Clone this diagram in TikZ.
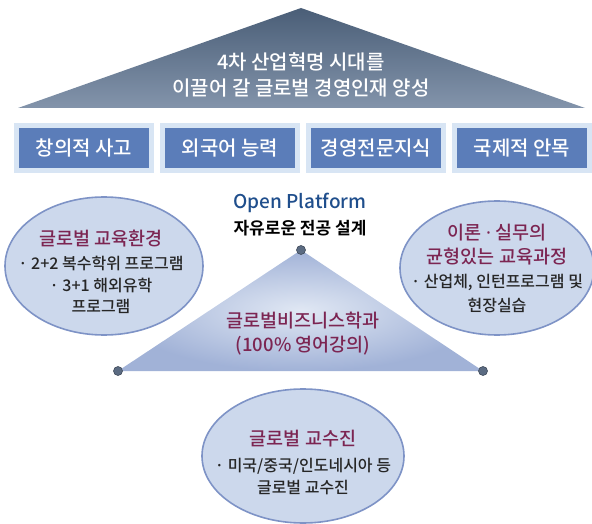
\documentclass[tikz,border=0pt]{standalone}
\usepackage{fontspec}
\setmainfont{Noto Sans CJK KR Medium}[BoldFont={Noto Sans CJK KR Bold}]
\newfontfamily\dotfont{Noto Sans}
\usetikzlibrary{shapes.geometric,positioning}

\definecolor{roofdark}{HTML}{4A5E77}
\definecolor{rooflight}{HTML}{8394AB}
\definecolor{pillarblue}{HTML}{5B7DB9}
\definecolor{pillaredge}{HTML}{D8E5F4}
\definecolor{ovalfill}{HTML}{CCD8EC}
\definecolor{ovaledge}{HTML}{7E93C6}
\definecolor{headred}{HTML}{7C2552}
\definecolor{openblue}{HTML}{1F4E8C}
\definecolor{bodytext}{HTML}{262626}
\definecolor{dotgrey}{HTML}{5B6B82}

\newcommand\headfont{\color{headred}\fontsize{18.5}{24}\selectfont}

\tikzset{
  pillar/.style={fill=pillarblue, draw=pillaredge, line width=5pt,
    minimum width=135pt, minimum height=45pt, text=white,
    font=\fontsize{20}{22}\selectfont},
  oval/.style={ellipse, fill=ovalfill, draw=ovaledge, line width=1.6pt},
  ovaltext/.style={align=center, text=bodytext, font=\fontsize{16}{24}\selectfont},
  head/.style={text=headred, font=\fontsize{18.5}{24}\selectfont},
  cornerdot/.style={circle, fill=dotgrey, draw=dotgrey!70!black, line width=0.6pt,
    minimum size=9pt, inner sep=0pt}
}

\begin{document}
\begin{tikzpicture}[x=1pt, y=-1pt]
  \useasboundingbox (0,0) rectangle (592,524);

  % roof
  \shade[top color=roofdark, middle color=roofdark, bottom color=rooflight]
    (18,108) -- (301,8) -- (585,108) -- cycle;
  \node[text=white, align=center, font=\fontsize{20}{26}\selectfont] (goal) at (301,75)
    {4차 산업혁명 시대를\\이끌어 갈 글로벌 경영인재 양성};

  % pillars
  \node[pillar] (creative) at (84,148) {창의적 사고};
  \node[pillar, right=6pt of creative] (language) {외국어 능력};
  \node[pillar, right=6pt of language] (expert) {경영전문지식};
  \node[pillar, right=6pt of expert] (vision) {국제적 안목};

  % open platform
  \node[text=openblue, font=\fontsize{19}{20}\selectfont] (open) at (300,203) {Open Platform};
  \node[text=black, font=\bfseries\fontsize{17}{20}\selectfont, below=0pt of open] (free) {자유로운 전공 설계};

  % triangle
  \coordinate (apex) at (301,250);
  \coordinate (bl) at (118,371);
  \coordinate (br) at (483,371);
  \shade[inner color=ovalfill!60!white, outer color=ovaledge!55!ovalfill]
    (apex) -- (bl) -- (br) -- cycle;
  \node[cornerdot] (apexdot) at (apex) {};
  \node[cornerdot] (bldot) at (bl) {};
  \node[cornerdot] (brdot) at (br) {};
  \node[head, align=center] (major) at (303,334) {글로벌비즈니스학과\\(100\% 영어강의)};

  % left oval
  \node[oval, minimum width=198pt, minimum height=138pt] (env) at (104,266) {};
  \node[ovaltext] (envtext) at (101,272)
    {{\headfont 글로벌 교육환경}\\
     · 2+2 복수학위 프로그램\\[-2pt]
     · 3+1 해외유학\\[-3pt]
     프로그램};

  % right oval
  \node[oval, minimum width=194pt, minimum height=134pt] (course) at (497,268) {};
  \node[ovaltext] (coursetext) at (497,268)
    {{\headfont 이론 {\dotfont·} 실무의}\\
     {\headfont 균형있는 교육과정}\\
     · 산업체, 인턴프로그램 및\\
     현장실습};

  % bottom oval
  \node[oval, minimum width=202pt, minimum height=134pt] (faculty) at (303,456) {};
  \node[ovaltext] (facultytext) at (303,462)
    {{\headfont 글로벌 교수진}\\[2pt]
     · 미국/중국/인도네시아 등\\[-2pt]
     글로벌 교수진};
\end{tikzpicture}
\end{document}
